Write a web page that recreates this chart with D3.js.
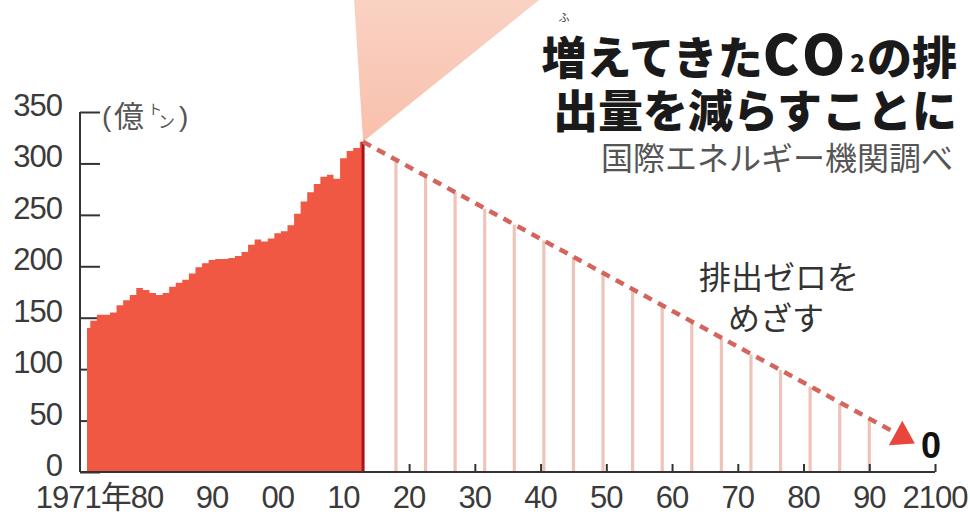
<!DOCTYPE html>
<html><head><meta charset="utf-8">
<script src="https://cdn.jsdelivr.net/npm/d3@7"></script>
<style>body{margin:0;background:#fff;} svg{display:block;}</style>
</head><body>
<svg id="c" width="970" height="516"></svg>
<script>
// ---- data ----
const years = [1971,1972,1973,1974,1975,1976,1977,1978,1979,1980,1981,1982,1983,1984,1985,1986,1987,1988,1989,1990,1991,1992,1993,1994,1995,1996,1997,1998,1999,2000,2001,2002,2003,2004,2005,2006,2007,2008,2009,2010,2011,2012,2013];
const emissions = [140,147,153,153,155,162,167,172,179,177,174,172,174,180,184,187,193,199,203,206,207,207,208,210,214,221,226,224,227,232,234,240,251,263,272,280,287,289,285,305,312,315,321];
const projYears = [2018,2022.5,2027,2031.5,2036,2040.5,2045,2049.5,2054,2058.5,2063,2067.5,2072,2076.5,2081,2085.5,2090];
const projValues = [303.5,288,272,256,240.5,225,209,193,177.5,162,146,130,114.5,99,83,67,51.5];
const pathYears = [2013,2094];
const pathValues = [321,38];
const yTicks = [0,50,100,150,200,250,300,350];
const xTicks = [1980,1990,2000,2010,2020,2030,2040,2050,2060,2070,2080,2090,2100];
const xTickLabels = ["1971年80","90","00","10","20","30","40","50","60","70","80","90","2100"];

const svg = d3.select("#c");
const x = d3.scaleLinear().domain([1971,2100]).range([87,935]);
const y = d3.scaleLinear().domain([0,350]).range([472,112]);
const numFont = "'Liberation Sans', Arial, sans-serif";
const jpFont = "'Noto Sans CJK JP', sans-serif";

// gradient for cone
const defs = svg.append("defs");
const g1 = defs.append("linearGradient").attr("id","cone").attr("x1",0).attr("y1",1).attr("x2",0).attr("y2",0);
g1.append("stop").attr("offset","0%").attr("stop-color","#f8c0ac");
g1.append("stop").attr("offset","100%").attr("stop-color","#fad2c3");

// cone (decorative)
const apexX = x(years[years.length-1]), apexY = y(emissions[emissions.length-1]);
svg.append("path")
  .attr("d", `M${apexX},${apexY} L${apexX-9},0 L${apexX+176},0 Z`)
  .attr("fill","url(#cone)");

// y axis
const yAxis = d3.axisRight(y).tickValues(yTicks).tickSize(20).tickFormat("");
const yg = svg.append("g").attr("transform","translate(80,0)").call(yAxis);
yg.select(".domain").attr("stroke","#333").attr("stroke-width",2).attr("d",`M0,${y(350)}V${y(0)}`);
yg.selectAll(".tick line").attr("stroke","#333").attr("stroke-width",2);

svg.append("g").selectAll("text").data(yTicks).join("text")
  .attr("x",62).attr("y",d=>y(d)+4)
  .attr("text-anchor","end")
  .attr("font-family",numFont).attr("font-size",31).attr("letter-spacing",-1)
  .attr("fill","#3a3a3a").text(d=>d);

// unit label
const ul = svg.append("g").attr("fill","#555");
ul.append("text").attr("x",102).attr("y",126).attr("font-family",numFont).attr("font-size",28).text("(");
ul.append("text").attr("x",114).attr("y",127).attr("font-family",jpFont).attr("font-size",30).text("億");
ul.append("text").attr("x",148).attr("y",114).attr("font-family",jpFont).attr("font-size",14).text("ト");
ul.append("text").attr("x",158).attr("y",128).attr("font-family",jpFont).attr("font-size",17).text("ン");
ul.append("text").attr("x",179).attr("y",126).attr("font-family",numFont).attr("font-size",28).text(")");

// projection lines
svg.append("g").selectAll("line").data(projYears).join("line")
  .attr("x1",d=>x(d)).attr("x2",d=>x(d))
  .attr("y1",y(0)).attr("y2",(d,i)=>y(projValues[i]))
  .attr("stroke","#efc3b8").attr("stroke-width",3.2);

// historic area
const data = years.map((yr,i)=>({yr, v:emissions[i]}));
const area = d3.area().x(d=>x(d.yr)).y0(y(0)).y1(d=>y(d.v)).curve(d3.curveStep);
svg.append("path").datum(data).attr("d",area).attr("fill","#f05844");
// end line
svg.append("line").attr("x1",apexX).attr("x2",apexX).attr("y1",apexY).attr("y2",y(0))
  .attr("stroke","#a8141c").attr("stroke-width",3);

// x axis
const xAxis = d3.axisTop(x).tickValues(xTicks).tickSize(8).tickFormat("");
const xg = svg.append("g").attr("transform",`translate(0,${y(0)})`).call(xAxis);
xg.select(".domain").attr("stroke","#333").attr("stroke-width",2).attr("d",`M80,0H935`);
xg.selectAll(".tick line").attr("stroke","#333").attr("stroke-width",2);
xg.selectAll(".tick").filter(d=>d<=2010).remove();

svg.append("g").selectAll("text").data(xTicks).join("text")
  .attr("x",(d,i)=> i===0 ? x(d)+17 : x(d))
  .attr("y",508)
  .attr("text-anchor",(d,i)=> i===0 ? "end" : "middle")
  .attr("font-family",(d,i)=> i===0 ? `${numFont.split(',')[0]}, ${jpFont}` : numFont)
  .attr("font-size",31).attr("letter-spacing",-1)
  .attr("fill","#3a3a3a").text((d,i)=>xTickLabels[i]);

// dashed path
const p0=[x(pathYears[0]),y(pathValues[0])], p1=[x(pathYears[1]),y(pathValues[1])];
svg.append("line").attr("x1",p0[0]).attr("y1",p0[1]).attr("x2",p1[0]).attr("y2",p1[1])
  .attr("stroke","#d4655e").attr("stroke-width",4.5).attr("stroke-dasharray","9 7");
const dx=p1[0]-p0[0], dy=p1[1]-p0[1], L=Math.hypot(dx,dy), ux=dx/L, uy=dy/L;
const tip=[p1[0]+ux*22,p1[1]+uy*22], b1=[p1[0]-uy*14,p1[1]+ux*14], b2=[p1[0]+uy*14,p1[1]-ux*14];
svg.append("path").attr("d",`M${tip}L${b1}L${b2}Z`).attr("fill","#e8463c");

svg.append("text").attr("x",921).attr("y",458).attr("font-family",numFont).attr("font-weight","bold")
  .attr("font-size",36).attr("fill","#111").text("0");

// annotation
const an = svg.append("g").attr("font-family",jpFont).attr("font-size",32).attr("fill","#333").attr("text-anchor","middle");
an.append("text").attr("x",779).attr("y",289).text("排出ゼロを");
an.append("text").attr("x",776).attr("y",330).text("めざす");

// title
const tt = svg.append("g").attr("font-family",jpFont).attr("font-weight",900).attr("fill","#1a1a1a").attr("text-anchor","end");
const t1 = tt.append("text").attr("x",957).attr("y",75).attr("font-size",45);
t1.append("tspan").text("増えてきた");
t1.append("tspan").attr("font-size",55).attr("letter-spacing",5).text("CO");
t1.append("tspan").attr("font-size",24).attr("dy",-3).attr("letter-spacing",2).text("2");
t1.append("tspan").attr("dy",3).text("の排");
tt.append("text").attr("x",957).attr("y",128).attr("font-size",45).text("出量を減らすことに");
svg.append("text").attr("x",564).attr("y",22).attr("font-family",jpFont).attr("font-size",11)
  .attr("text-anchor","middle").attr("fill","#333").text("ふ");
svg.append("text").attr("x",953).attr("y",170).attr("font-family",jpFont).attr("font-size",32)
  .attr("text-anchor","end").attr("fill","#555").text("国際エネルギー機関調べ");
</script>
</body></html>
